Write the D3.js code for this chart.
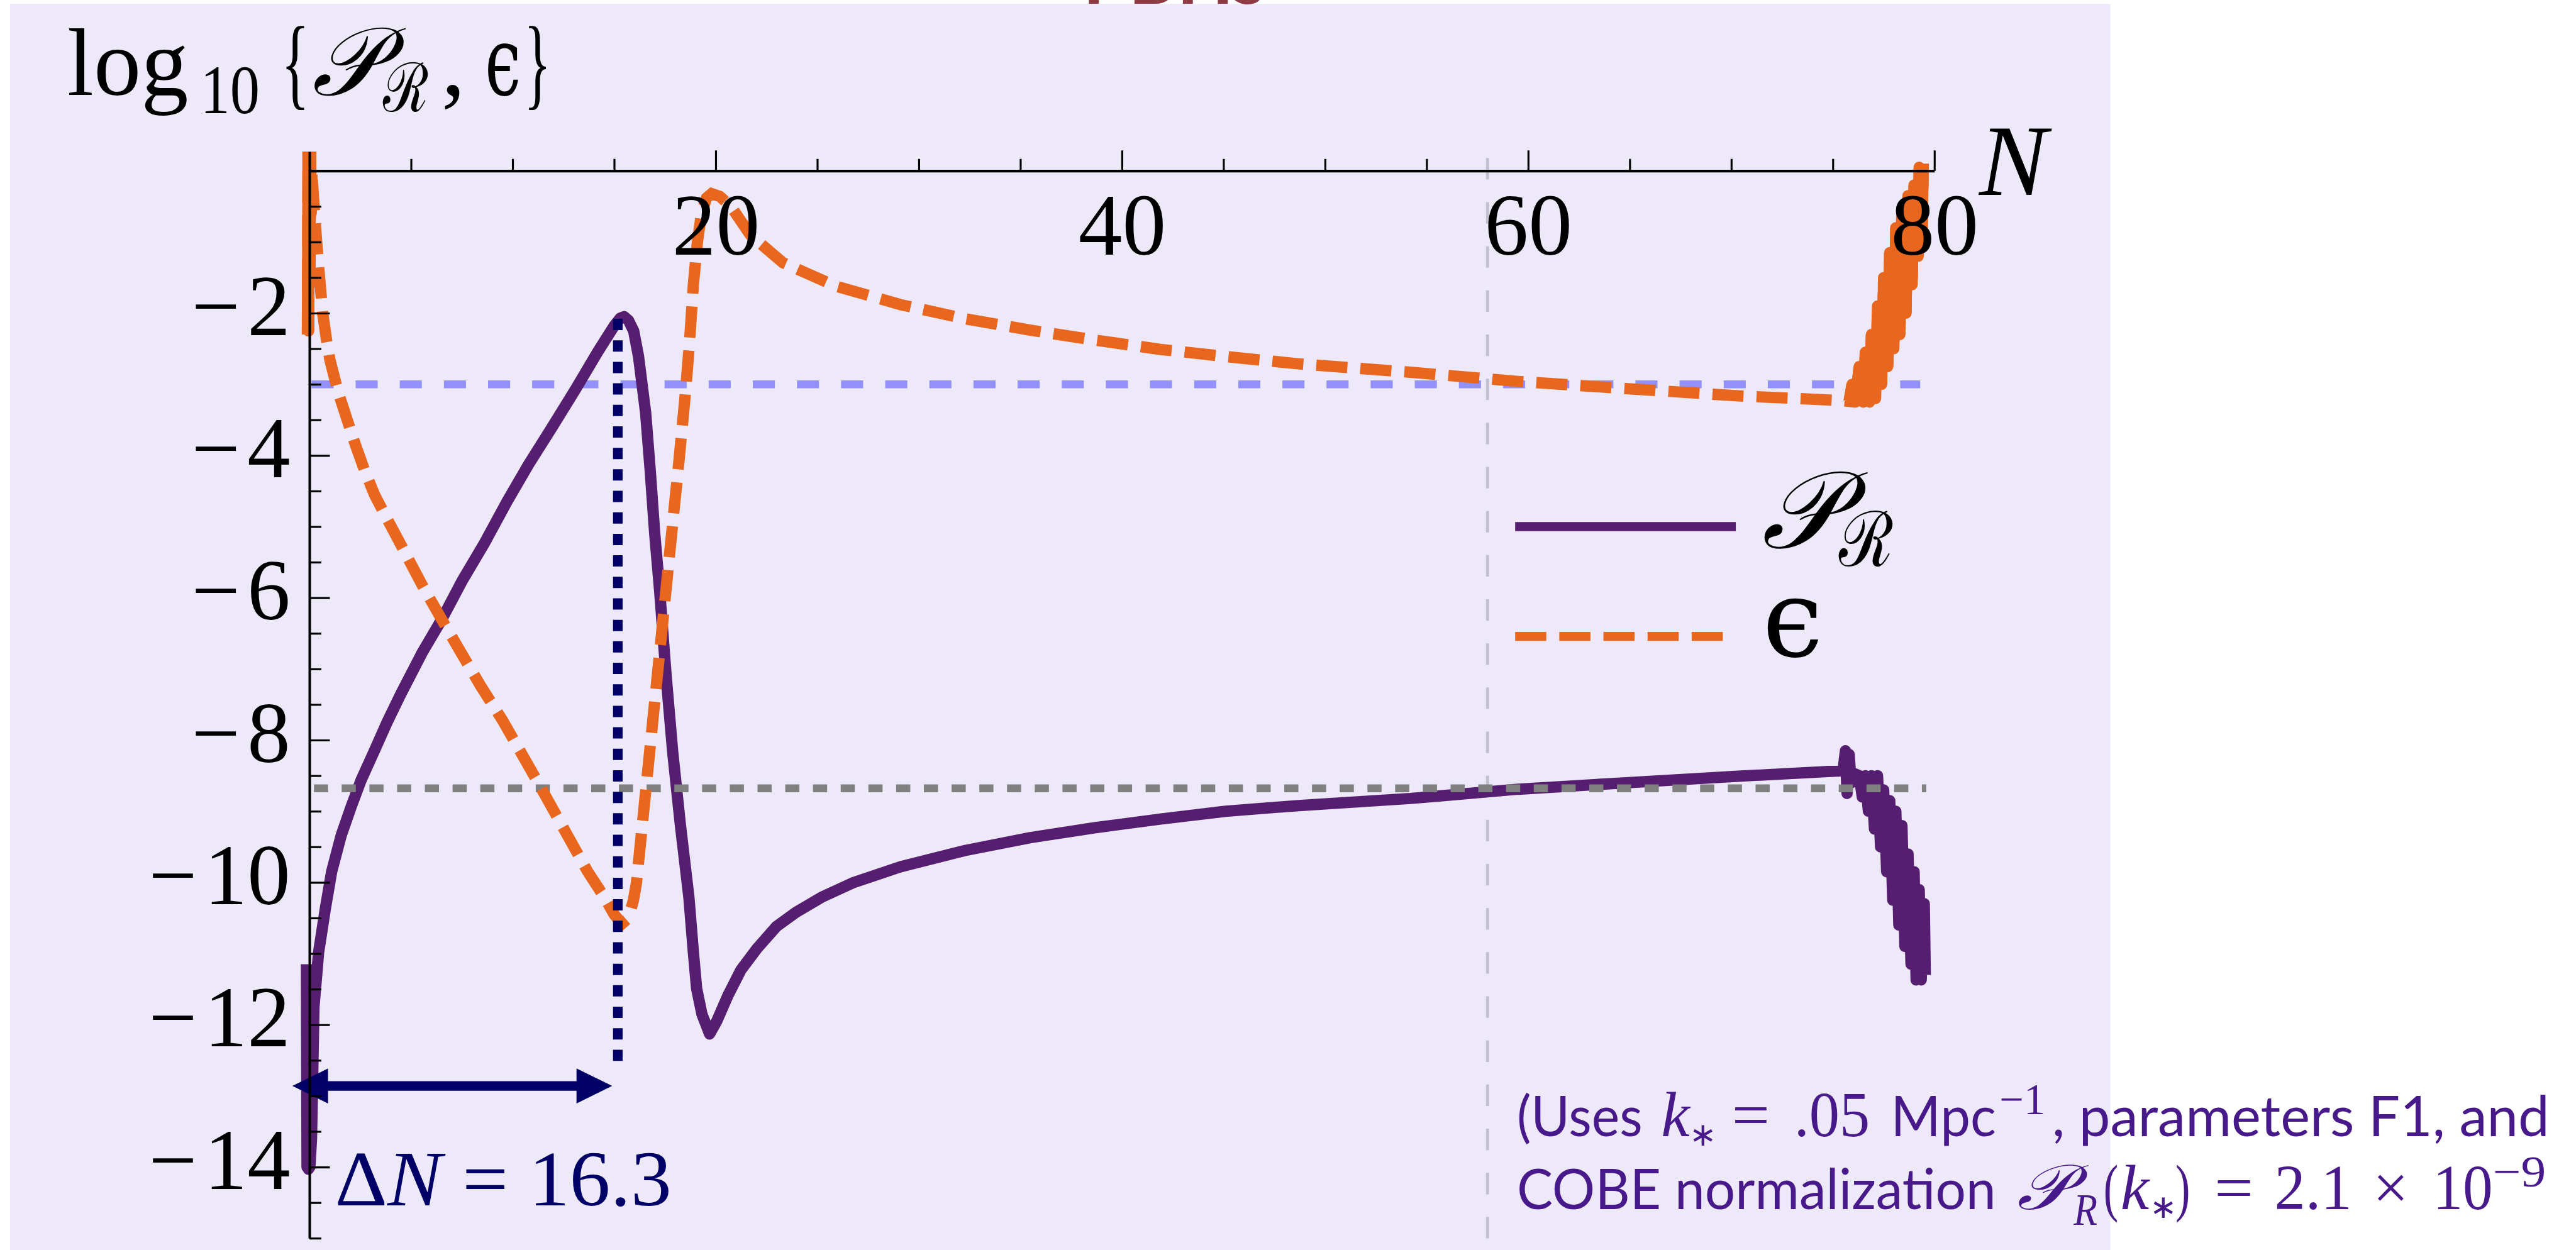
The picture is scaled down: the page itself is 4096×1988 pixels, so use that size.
<!DOCTYPE html>
<html>
<head>
<meta charset="utf-8">
<script src="https://cdn.jsdelivr.net/npm/d3@7"></script>
<style>
  html, body { margin: 0; padding: 0; background: #ffffff; overflow: hidden; }
  svg { display: block; }
</style>
</head>
<body>
<script>
// ---------------------------------------------------------------
// Slow-roll parameter and curvature power spectrum vs. e-folds N
// (log10 of each quantity)
// ---------------------------------------------------------------

// epsilon(N): log10 values
const epsN = [
  -0.10, -0.07, -0.04, -0.01, 0.02, 0.05, 0.08, 0.12,
  0.30, 0.45, 0.65, 0.85, 1.00, 1.40, 1.80, 2.20, 2.70, 3.20, 3.80, 4.60,
  5.60, 6.50, 7.50, 8.45, 9.50, 10.30, 11.30, 12.10, 12.90, 13.70, 14.50,
  15.00, 15.38, 15.70, 15.95, 16.10, 16.40, 16.70, 17.00, 17.30, 17.60,
  17.90, 18.20, 18.50, 18.70, 18.90, 19.10, 19.30, 19.55, 19.80, 20.20,
  20.75, 21.70, 23.30, 25.90, 29.10, 32.30, 35.50, 38.70, 41.90, 45.10,
  48.60, 54.20, 59.50, 64.80, 70.20, 75.50, 75.80,
  75.95, 76.10, 76.30, 76.50, 76.60, 76.80, 76.90, 77.10, 77.20, 77.40,
  77.50, 77.70, 77.80, 78.00, 78.10, 78.30, 78.40, 78.60, 78.70, 78.90,
  79.00, 79.20, 79.25, 79.40, 79.45
];
const epsLog = [
  -2.30, 0.30, -2.25, 0.30, -1.60, 0.30, -0.60, -0.05,
  -0.80, -1.35, -2.00, -2.40, -2.65, -3.10, -3.45, -3.80, -4.20, -4.55, -4.88, -5.31,
  -5.85, -6.30, -6.79, -7.25, -7.72, -8.12, -8.62, -9.03, -9.44, -9.85, -10.20,
  -10.45, -10.58, -10.50, -10.25, -10.00, -9.15, -8.30, -7.45, -6.60, -5.75,
  -4.90, -4.05, -3.15, -2.45, -1.60, -1.00, -0.60, -0.38, -0.32, -0.36,
  -0.50, -0.90, -1.29, -1.62, -1.88, -2.08, -2.24, -2.38, -2.51, -2.61,
  -2.71, -2.83, -2.96, -3.06, -3.16, -3.23, -3.24,
  -3.00, -3.25, -2.75, -3.25, -2.55, -3.25, -2.30, -3.20, -1.90, -3.00,
  -1.50, -2.75, -1.15, -2.50, -0.80, -2.30, -0.55, -2.00, -0.35, -1.60,
  -0.20, -1.20, 0.05, -0.80, 0.10
];

// P_R(N): log10 values
const prN = [
  -0.15, -0.12, -0.08, -0.05, -0.02, 0.02, 0.10, 0.14, 0.22, 0.45, 0.78,
  1.09, 1.56, 2.06, 2.53, 3.18, 3.82, 4.50, 5.57, 6.52, 7.50, 8.60, 9.72,
  10.80, 11.95, 13.10, 14.20, 15.00, 15.30, 15.49, 15.70, 15.96, 16.20,
  16.55, 16.77, 17.00, 17.24, 17.56, 17.88, 18.26, 18.68, 18.90, 19.06,
  19.32, 19.70, 20.05, 20.60, 21.24, 22.03, 22.99, 23.95, 25.20, 26.80,
  29.10, 32.30, 35.50, 38.70, 41.90, 45.10, 48.70, 54.20, 59.50, 64.80,
  70.20, 75.50, 75.62, 75.70, 75.80, 75.90, 76.05, 76.30,
  76.45, 76.60, 76.75, 76.90, 77.05, 77.20, 77.35, 77.50, 77.65, 77.80,
  77.95, 78.10, 78.25, 78.40, 78.55, 78.70, 78.85, 79.00, 79.10, 79.25,
  79.35, 79.50, 79.55
];
const prLog = [
  -11.15, -14.00, -11.30, -14.03, -12.00, -14.00, -13.60, -13.00, -11.75, -10.98, -10.37,
  -9.85, -9.34, -8.93, -8.57, -8.16, -7.75, -7.35, -6.76, -6.30, -5.77, -5.24, -4.65,
  -4.12, -3.60, -3.07, -2.54, -2.18, -2.07, -2.05, -2.10, -2.25, -2.61,
  -3.40, -4.19, -5.11, -5.90, -7.10, -8.16, -9.19, -10.21, -10.98, -11.49,
  -11.85, -12.13, -11.95, -11.59, -11.23, -10.93, -10.62, -10.42, -10.21, -10.00,
  -9.78, -9.55, -9.37, -9.23, -9.11, -9.00, -8.92, -8.82, -8.69, -8.60,
  -8.51, -8.43, -8.15, -8.75, -8.20, -8.60, -8.47, -8.50,
  -8.80, -8.50, -9.00, -8.50, -9.25, -8.50, -9.50, -8.70, -9.85, -8.85,
  -10.25, -9.00, -10.60, -9.20, -10.90, -9.60, -11.15, -9.85, -11.37, -10.10,
  -11.37, -10.30, -11.30
];

// axis ticks
const xTickValues = [20, 40, 60, 80];
const xMinorValues = [5, 10, 15, 25, 30, 35, 45, 50, 55, 65, 70, 75];
const yTickValues = [-2, -4, -6, -8, -10, -12, -14];

// reference levels and markers
const epsRefLog = -3;                    // epsilon = 10^-3
const cobeAmplitude = 2.1e-9;            // P_R(k*) normalisation
const cobeLog = Math.log10(cobeAmplitude);
const pivotN = 58;                       // N at k* crossing
const peakN = 15.18;                     // P_R peak
const peakLog = -2.08;
const markerBottomLog = -12.6;
const deltaN = 16.3;
const arrowLog = -12.86;

// ---------------------------------------------------------------
const W = 4096, H = 1988;
const S = W / 4553;               // everything below is laid out at 4553 x 2210

const colors = {
  panel: '#EDE9F8',
  pr: '#561E70',
  eps: '#E9661F',
  epsRef: '#9191F9',
  cobe: '#808080',
  pivot: '#C2C0CE',
  marker: '#000066',
  note: '#48198A',
  title: '#8E3B44'
};
const SERIF = "'Liberation Serif', 'Times New Roman', serif";
const MATH = "'DejaVu Serif', 'Liberation Serif', serif";
const SANS = "Lato, 'Open Sans', sans-serif";

const PR_WIDTH = 20, EPS_WIDTH = 20;

const svg = d3.select('body').append('svg')
  .attr('width', W).attr('height', H)
  .attr('viewBox', `0 0 ${W} ${H}`);

const g = svg.append('g').attr('transform', `scale(${S})`);
const fit = (sel, w) => sel.attr('textLength', w).attr('lengthAdjust', 'spacingAndGlyphs');

// background panel
g.append('rect')
  .attr('x', 18).attr('y', 7)
  .attr('width', 3712).attr('height', 2210)
  .attr('fill', colors.panel);

// heading (sits above the panel, mostly out of frame)
g.append('text')
  .attr('x', 2075).attr('y', 7)
  .attr('text-anchor', 'middle')
  .attr('font-family', SANS)
  .attr('font-weight', 700)
  .attr('font-size', 130)
  .attr('fill', colors.title)
  .text('PBHs');

// scales
const x = d3.scaleLinear().domain([0, 80]).range([547, 3419]);
const y = d3.scaleLinear().domain([0.27, -15]).range([268, 2189]);

// clip for the curves
g.append('defs').append('clipPath').attr('id', 'plotClip')
  .append('rect')
  .attr('x', 0).attr('y', y(0.27))
  .attr('width', 4553).attr('height', 2210 - y(0.27));

// ---------------------------------------------------------------
// reference lines
const ref = g.append('g');

// pivot scale crossing
ref.append('line')
  .attr('x1', x(pivotN)).attr('x2', x(pivotN))
  .attr('y1', y(0.18)).attr('y2', y(-15.2))
  .attr('stroke', colors.pivot).attr('stroke-width', 5.5)
  .attr('stroke-dasharray', '38,40');

// epsilon = 10^-3
ref.append('line')
  .attr('x1', x(0.1)).attr('x2', x(79.3))
  .attr('y1', y(epsRefLog)).attr('y2', y(epsRefLog))
  .attr('stroke', colors.epsRef).attr('stroke-width', 14)
  .attr('stroke-dasharray', '39,39');

// ---------------------------------------------------------------
// curves
const line = d3.line().x(d => x(d[0])).y(d => y(d[1]));
const prPts = prN.map((n, i) => [n, prLog[i]]);
const epsPts = epsN.map((n, i) => [n, epsLog[i]]);

const curves = g.append('g').attr('clip-path', 'url(#plotClip)');

curves.append('path')
  .datum(prPts)
  .attr('d', line)
  .attr('fill', 'none')
  .attr('stroke', colors.pr)
  .attr('stroke-width', PR_WIDTH)
  .attr('stroke-linejoin', 'round');

// COBE normalisation level
curves.append('line')
  .attr('x1', x(0.22)).attr('x2', x(79.6))
  .attr('y1', y(cobeLog)).attr('y2', y(cobeLog))
  .attr('stroke', colors.cobe).attr('stroke-width', 14)
  .attr('stroke-dasharray', '25,24');

curves.append('path')
  .datum(epsPts)
  .attr('d', line)
  .attr('fill', 'none')
  .attr('stroke', colors.eps)
  .attr('stroke-width', EPS_WIDTH)
  .attr('stroke-dasharray', '55,23');

// rapidly oscillating stretches render as a solid band
[epsPts.filter(d => d[0] <= 0.12), epsPts.filter(d => d[0] >= 75.8)].forEach(seg => {
  curves.append('path')
    .datum(seg)
    .attr('d', line)
    .attr('fill', 'none')
    .attr('stroke', colors.eps)
    .attr('stroke-width', EPS_WIDTH)
    .attr('stroke-linejoin', 'round');
});

// ---------------------------------------------------------------
// Delta N marker
g.append('line')
  .attr('x1', x(peakN)).attr('x2', x(peakN))
  .attr('y1', y(peakLog)).attr('y2', y(markerBottomLog))
  .attr('stroke', colors.marker).attr('stroke-width', 17)
  .attr('stroke-dasharray', '20,18');

(function drawArrow() {
  const inset = 10, head = 63, half = 31, shaft = 8.5;
  const x0 = x(peakN - deltaN) + inset, x1 = x(peakN) - inset, yc = y(arrowLog);
  const p = d3.path();
  p.moveTo(x0, yc);
  p.lineTo(x0 + head, yc - half);
  p.lineTo(x0 + head, yc - shaft);
  p.lineTo(x1 - head, yc - shaft);
  p.lineTo(x1 - head, yc - half);
  p.lineTo(x1, yc);
  p.lineTo(x1 - head, yc + half);
  p.lineTo(x1 - head, yc + shaft);
  p.lineTo(x0 + head, yc + shaft);
  p.lineTo(x0 + head, yc + half);
  p.closePath();
  g.append('path').attr('d', p.toString()).attr('fill', colors.marker);
})();

const dn = g.append('text')
  .attr('x', 592).attr('y', 2131)
  .attr('font-family', SERIF).attr('font-size', 138)
  .attr('fill', colors.marker)
  .attr('textLength', 595).attr('lengthAdjust', 'spacingAndGlyphs');
dn.append('tspan').text('\u0394');
dn.append('tspan').attr('font-style', 'italic').text('N');
dn.append('tspan').text(' = ' + deltaN);

// ---------------------------------------------------------------
// axes (drawn over the curves)
const axisStroke = 4.5, tickStroke = 3.5;

const xAxisMajor = d3.axisBottom(x)
  .tickValues(xTickValues)
  .tickSizeInner(-36).tickSizeOuter(0)
  .tickPadding(38)
  .tickFormat(d3.format('d'));
const xAxisMinor = d3.axisBottom(x)
  .tickValues(xMinorValues)
  .tickSizeInner(-21).tickSizeOuter(0)
  .tickFormat('');

const gx = g.append('g').attr('transform', `translate(0,${y(0)})`);
gx.append('g').call(xAxisMinor).call(s => s.select('.domain').remove());
gx.append('g').call(xAxisMajor);
gx.selectAll('.domain').attr('stroke', '#000').attr('stroke-width', axisStroke);
gx.selectAll('.tick line').attr('stroke', '#000').attr('stroke-width', tickStroke);
gx.selectAll('.tick text')
  .attr('font-family', SERIF).attr('font-size', 155)
  .attr('fill', '#000');

const yAxisMajor = d3.axisLeft(y)
  .tickValues(yTickValues)
  .tickSizeInner(-36).tickSizeOuter(0)
  .tickPadding(34)
  .tickFormat(d => '\u2212\u200A' + Math.abs(d));
const yMinorValues = d3.range(-0.5, -15.01, -0.5).filter(v => !yTickValues.includes(v));
const yAxisMinor = d3.axisLeft(y)
  .tickValues(yMinorValues)
  .tickSizeInner(-21).tickSizeOuter(0)
  .tickFormat('');

const gy = g.append('g').attr('transform', `translate(${x(0)},0)`);
gy.append('g').call(yAxisMinor).call(s => s.select('.domain').remove());
gy.append('g').call(yAxisMajor);
gy.selectAll('.domain').attr('stroke', '#000').attr('stroke-width', axisStroke);
gy.selectAll('.tick line').attr('stroke', '#000').attr('stroke-width', tickStroke);
gy.selectAll('.tick text')
  .attr('font-family', SERIF).attr('font-size', 152)
  .attr('dy', '0.25em')
  .attr('fill', '#000');

// axis titles
g.append('text')
  .attr('x', 3498).attr('y', 345)
  .attr('font-family', SERIF).attr('font-style', 'italic')
  .attr('font-size', 180).attr('fill', '#000')
  .text('N');

const yTitle = g.append('g').attr('font-family', SERIF).attr('font-size', 170).attr('fill', '#000');
fit(yTitle.append('text').attr('x', 119).attr('y', 168).text('log'), 214);
fit(yTitle.append('text').attr('x', 354).attr('y', 200).attr('font-size', 122).text('10'), 105);
fit(yTitle.append('text').attr('x', 497).attr('y', 170).attr('font-size', 180).text('{'), 50);
fit(yTitle.append('text').attr('x', 551).attr('y', 168).attr('font-family', MATH)
  .attr('font-style', 'italic').text('\u{1D4AB}'), 122);
fit(yTitle.append('text').attr('x', 677).attr('y', 197).attr('font-family', MATH)
  .attr('font-size', 120).text('\u211B'), 80);
yTitle.append('text').attr('x', 780).attr('y', 168).text(',');
fit(yTitle.append('text').attr('x', 857).attr('y', 168).attr('font-family', MATH).text('\u03F5'), 64);
fit(yTitle.append('text').attr('x', 926).attr('y', 170).attr('font-size', 180).text('}'), 48);

// ---------------------------------------------------------------
// legend
const lg = g.append('g');
lg.append('line')
  .attr('x1', 2678).attr('x2', 3068).attr('y1', 931).attr('y2', 931)
  .attr('stroke', colors.pr).attr('stroke-width', 16);
lg.append('line')
  .attr('x1', 2678).attr('x2', 3052).attr('y1', 1125).attr('y2', 1125)
  .attr('stroke', colors.eps).attr('stroke-width', 16)
  .attr('stroke-dasharray', '55,23');
const lt = lg.append('g').attr('font-family', MATH).attr('font-size', 192).attr('fill', '#000');
fit(lt.append('text').attr('x', 3113).attr('y', 968).attr('font-style', 'italic').text('\u{1D4AB}'), 139);
fit(lt.append('text').attr('x', 3250).attr('y', 1000).attr('font-size', 135).text('\u211B'), 96);
lt.append('text').attr('x', 3115).attr('y', 1160).text('\u03F5');

// ---------------------------------------------------------------
// footnote
const noteLines = [
  { y: 2009, parts: [
    { t: '(Uses', x: 2681, w: 222, kind: 'sans' },
    { t: 'k', x: 2936, kind: 'ital' },
    { t: '\u2217', x: 2986, kind: 'sub' },
    { t: '=', x: 3061, w: 67, kind: 'serif' },
    { t: '.05', x: 3171, w: 134, kind: 'serif' },
    { t: 'Mpc', x: 3342, w: 186, kind: 'sans' },
    { t: '\u22121', x: 3534, w: 81, kind: 'sup' },
    { t: ', parameters F1, and', x: 3627, w: 879, kind: 'sans' }
  ]},
  { y: 2137, parts: [
    { t: 'COBE normalization', x: 2681, w: 847, kind: 'sans' },
    { t: '\u{1D4AB}', x: 3565, w: 94, kind: 'script' },
    { t: 'R', x: 3665, w: 42, kind: 'subital' },
    { t: '(', x: 3718, w: 26, kind: 'serif' },
    { t: 'k', x: 3748, kind: 'ital' },
    { t: '\u2217', x: 3799, kind: 'sub' },
    { t: ')', x: 3845, w: 26, kind: 'serif' },
    { t: '=', x: 3914, w: 69, kind: 'serif' },
    { t: '2.1', x: 4020, w: 137, kind: 'serif' },
    { t: '\u00D7', x: 4194, w: 63, kind: 'serif' },
    { t: '10', x: 4300, w: 106, kind: 'serif' },
    { t: '\u22129', x: 4406, w: 94, kind: 'sup' }
  ]}
];
const kindStyle = {
  sans:    { family: SANS,  size: 100, style: 'normal', dy: 0 },
  serif:   { family: SERIF, size: 114, style: 'normal', dy: 0 },
  ital:    { family: SERIF, size: 114, style: 'italic', dy: 0 },
  sub:     { family: SERIF, size: 58,  style: 'normal', dy: 16 },
  subital: { family: SERIF, size: 80,  style: 'italic', dy: 28 },
  sup:     { family: SERIF, size: 78,  style: 'normal', dy: -39 },
  script:  { family: MATH,  size: 112, style: 'italic', dy: 0 }
};
const note = g.append('g').attr('fill', colors.note);
noteLines.forEach(ln => {
  ln.parts.forEach(p => {
    const k = kindStyle[p.kind];
    const t = note.append('text')
      .attr('x', p.x).attr('y', ln.y + k.dy)
      .attr('font-family', k.family)
      .attr('font-size', k.size)
      .attr('font-style', k.style)
      .text(p.t);
    if (p.w) fit(t, p.w);
  });
});
</script>
</body>
</html>
